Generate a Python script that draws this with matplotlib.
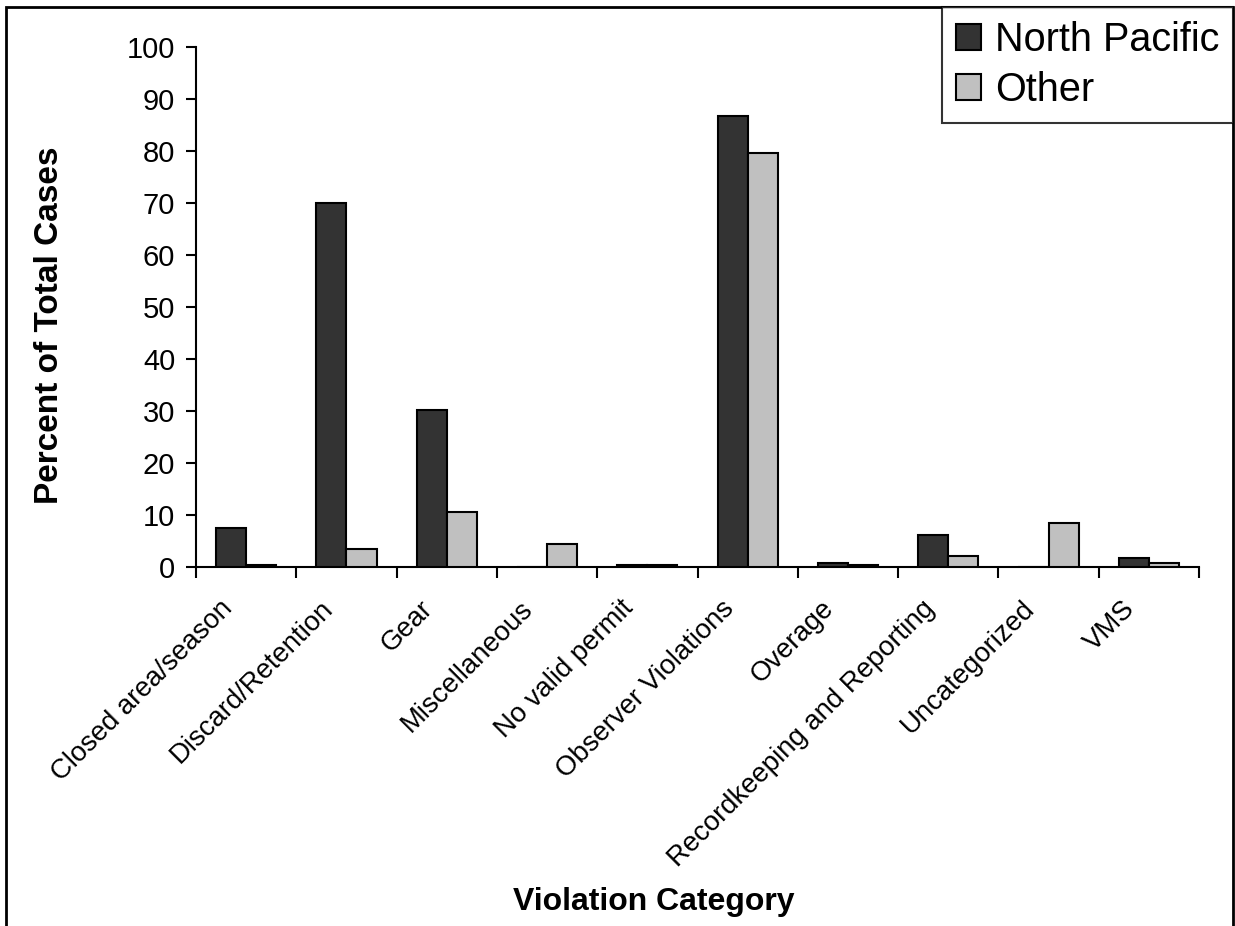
import matplotlib
matplotlib.use("Agg")
import matplotlib.pyplot as plt
import matplotlib.transforms as mtrans
import numpy as np
from matplotlib.patches import Rectangle

categories = ["Closed area/season", "Discard/Retention", "Gear", "Miscellaneous",
              "No valid permit", "Observer Violations", "Overage",
              "Recordkeeping and Reporting", "Uncategorized", "VMS"]
north_pacific = [7.5, 70.0, 30.2, 0.0, 0.3, 86.7, 0.7, 6.2, 0.0, 1.7]
other = [0.3, 3.5, 10.5, 4.4, 0.3, 79.6, 0.3, 2.1, 8.5, 0.7]
y_ticks = [0, 10, 20, 30, 40, 50, 60, 70, 80, 90, 100]

plt.rcParams['font.family'] = ['Liberation Sans', 'DejaVu Sans']

W, H = 1235, 926
fig = plt.figure(figsize=(W / 100, H / 100), dpi=100)
ax = fig.add_axes([196 / W, 1 - 567 / H, (1199 - 196) / W, (567 - 47) / H])

x = np.arange(len(categories))
w = 0.3
ax.bar(x - w / 2, north_pacific, width=w, color='#333333', edgecolor='black',
       linewidth=1.5, label='North Pacific', zorder=3)
ax.bar(x + w / 2, other, width=w, color='#c0c0c0', edgecolor='black',
       linewidth=1.5, label='Other', zorder=3)

ax.set_xlim(-0.5, len(categories) - 0.5)
ax.set_ylim(0, 100)
ax.set_yticks(y_ticks)
ax.tick_params(axis='y', labelsize=21, length=7, width=1.5, direction='out', pad=8)

ax.set_xticks(x)
ax.set_xticklabels(categories, rotation=45, ha='right', rotation_mode='anchor', fontsize=19.8)
ax.tick_params(axis='x', which='major', length=0, pad=14)
ax.set_xticks(np.arange(-0.5, len(categories), 1.0), minor=True)
ax.tick_params(axis='x', which='minor', length=8, width=1.5, direction='out')
offset = mtrans.ScaledTranslation(-27 / 100, -9 / 100, fig.dpi_scale_trans)
for lbl in ax.get_xticklabels():
    lbl.set_transform(lbl.get_transform() + offset)

for s in ['top', 'right']:
    ax.spines[s].set_visible(False)
for s in ['left', 'bottom']:
    ax.spines[s].set_linewidth(1.5)

ax.set_ylabel('Percent of Total Cases', fontsize=24, fontweight='bold')
ax.yaxis.set_label_coords((65 - 196) / (1199 - 196), (567 - 325) / (567 - 47))
ax.set_xlabel('Violation Category', fontsize=23, fontweight='bold')
ax.xaxis.set_label_coords((654 - 196) / (1199 - 196), -(887 - 567) / (567 - 47))

# outer frame
fig.add_artist(Rectangle((6 / W, -0.05), (1233 - 6) / W, 1.05 - 7 / H,
                         transform=fig.transFigure, fill=False,
                         edgecolor='black', linewidth=2))

leg = fig.legend(loc='upper right', bbox_to_anchor=(1233 / W, 1 - 7 / H),
                 fontsize=28.5, frameon=True, fancybox=False, edgecolor='black',
                 borderaxespad=0, handlelength=0.63, handleheight=0.63,
                 handletextpad=0.35, borderpad=0.35, labelspacing=0.3)
leg.get_frame().set_linewidth(1.5)

fig.savefig('out.png', dpi=100)
